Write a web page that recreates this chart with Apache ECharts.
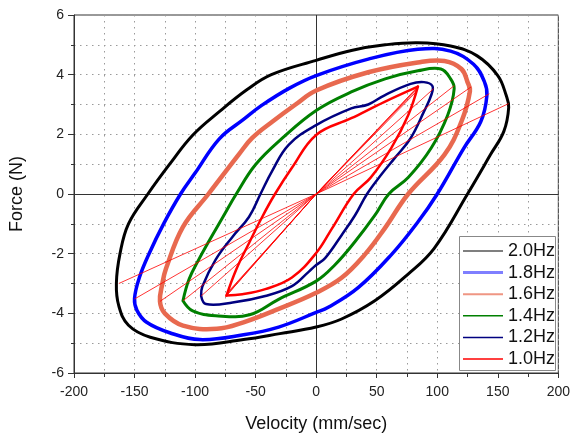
<!DOCTYPE html>
<html>
<head>
<meta charset="utf-8">
<script src="https://cdn.jsdelivr.net/npm/echarts@6/dist/echarts.min.js"></script>
<style>
html, body { margin: 0; padding: 0; background: #fff; }
#chart { width: 573px; height: 438px; }
</style>
</head>
<body>
<div id="chart"></div>
<script>
// force-velocity loops, [velocity mm/sec, force N]
var loop20 = [[-165,-3.0],[-162,-2.0],[-155,-1.0],[-139,0],[-121,1.0],[-102,1.97],[-80,2.76],[-57,3.5],[-37,4.0],[0,4.48],[30,4.82],[57,5.0],[84,5.07],[111,4.96],[133,4.63],[150,3.97],[157,3.3],[159,2.9],[155,2.1],[144,1.32],[125,0],[97.5,-1.82],[75.5,-2.7],[48.4,-3.58],[21,-4.19],[0,-4.46],[-30,-4.68],[-60,-4.88],[-100,-5.05],[-137,-4.8],[-155,-4.4],[-163,-3.75],[-165,-3.0]];
var loop18 = [[-150,-3.5],[-146,-2.8],[-138,-2.0],[-126,-1.0],[-112,0],[-100,0.7],[-80,1.85],[-60,2.5],[-45,2.97],[-22,3.55],[0,3.97],[43,4.52],[84,4.85],[111,4.79],[130,4.35],[139,3.76],[141,3.3],[136,2.43],[122,1.54],[100,0],[84,-0.94],[62,-2.04],[34.7,-3.14],[10,-3.8],[0,-3.97],[-31,-4.46],[-60,-4.72],[-96,-4.88],[-121,-4.65],[-140,-4.3],[-148,-3.9],[-150,-3.5]];
var loop16 = [[-129,-3.6],[-127,-3.0],[-124,-2.5],[-110,-1.1],[-89,0],[-64,1.32],[-53,1.87],[-36,2.43],[-17,3.0],[0,3.47],[43,4.08],[84,4.41],[106,4.46],[120,4.19],[125,3.75],[127,3.45],[120,2.43],[106,1.32],[76,0],[56.5,-1.16],[40,-2.04],[21,-2.81],[0,-3.31],[-31,-3.85],[-60,-4.3],[-82,-4.52],[-110,-4.41],[-125,-4.0],[-129,-3.6]];
var loop14 = [[-110,-3.58],[-105,-2.86],[-97,-2.2],[-88,-1.54],[-77,-0.77],[-66,0],[-50,0.99],[-28,1.87],[0,2.8],[29,3.42],[57,3.86],[84,4.13],[103,4.19],[111,3.86],[114,3.53],[108.6,2.64],[95,1.54],[76,0.55],[60,0],[48.4,-0.72],[32,-1.6],[15.6,-2.37],[0,-2.92],[-31,-3.53],[-55,-4.05],[-83,-4.08],[-102,-3.92],[-110,-3.58]];
var loop12 = [[-95,-3.42],[-94,-3.1],[-83,-2.2],[-69,-1.43],[-55.5,-0.77],[-46,0],[-36.4,0.77],[-22.7,1.65],[0,2.31],[29,2.87],[43,3.0],[56.5,3.31],[78,3.69],[89,3.75],[96,3.62],[95,3.31],[89,2.76],[78,1.87],[65,1.21],[54,0.66],[42,0],[32,-0.72],[21,-1.38],[7.4,-2.15],[0,-2.38],[-6,-2.6],[-20,-3.09],[-42,-3.42],[-69,-3.64],[-91,-3.69],[-95,-3.42]];
var loop10 = [[-74,-3.4],[-66,-2.53],[-55.5,-1.65],[-44.6,-0.77],[-34,0],[-20,0.88],[0,1.98],[29,2.54],[56.5,3.09],[84,3.6],[76,2.64],[62,1.54],[45,0.55],[31,0],[13,-1.16],[0,-1.98],[-20,-2.8],[-42,-3.19],[-61,-3.36],[-74,-3.4]];

// thin straight lines through the origin (loop start/end jumps)
var spokeLeft  = [[-74,-3.4],[-73,-3.32],[-75,-3.45],[-72,-3.25],[-95,-3.42],[-110,-3.58],[-129,-3.6],[-150,-3.52],[-163,-3.0]];
var spokeRight = [[84,3.6],[83,3.5],[85,3.62],[82,3.4],[97,3.53],[114,3.63],[128,3.59],[143,3.36],[159,3.03]];

var names  = ['2.0Hz', '1.8Hz', '1.6Hz', '1.4Hz', '1.2Hz', '1.0Hz'];
var colors = ['#000000', '#0000ff', '#e8694f', '#008000', '#000080', '#ff0000'];
var widths = [3, 3.5, 4.5, 3, 2.5, 2.5];
var loops  = [loop20, loop18, loop16, loop14, loop12, loop10];
// rounded ends (closed smooth curve) vs pointed lower-left end; 1.0Hz also pointed at the top tip
var rounded  = [true, true, true, false, false, false];
var sharpTip = [false, false, false, false, false, true];

var FONT = 'Liberation Sans, Arial, sans-serif';
var SMOOTH = 0.4;

function loopRenderer(i) {
  var pts = loops[i];
  return function (params, api) {
    if (params.dataIndex !== 0) return null;
    var px = pts.map(function (p) { return api.coord(p); });
    var style = { stroke: colors[i], lineWidth: widths[i], fill: null, lineJoin: 'round', lineCap: 'round' };
    if (rounded[i]) {
      return { type: 'polygon', shape: { points: px.slice(0, -1), smooth: SMOOTH }, style: style };
    }
    if (sharpTip[i]) {
      var k = 0;
      pts.forEach(function (p, j) { if (p[0] > pts[k][0]) k = j; });
      return {
        type: 'group',
        children: [
          { type: 'polyline', shape: { points: px.slice(0, k + 1), smooth: SMOOTH }, style: style },
          { type: 'polyline', shape: { points: px.slice(k), smooth: SMOOTH }, style: style }
        ]
      };
    }
    return { type: 'polyline', shape: { points: px, smooth: SMOOTH }, style: style };
  };
}

var series = loops.map(function (pts, i) {
  return {
    name: names[i],
    type: 'custom',
    data: pts,
    silent: true,
    itemStyle: { color: colors[i] },
    renderItem: loopRenderer(i),
    z: 3
  };
});
spokeLeft.forEach(function (p, i) {
  series.push({
    type: 'line',
    data: [p, [0, 0], spokeRight[i]],
    symbol: 'none',
    silent: true,
    lineStyle: { color: '#ff0000', width: 0.8 },
    z: 4
  });
});
// zero lines
series[series.length - 1].markLine = {
  symbol: 'none',
  silent: true,
  label: { show: false },
  lineStyle: { color: '#333', type: 'solid', width: 1 },
  z: 1,
  data: [{ xAxis: 0 }, { yAxis: 0 }]
};

// legend swatches: thickness (px) and opacity of each line sample
var swatchW  = [1, 3, 2, 1.5, 1.5, 1.5];
var swatchOp = [1, 0.5, 0.7, 1, 1, 1];

var gridDots = { color: '#9a9a9a', type: [1.5, 4.5], width: 1 };

var chart = echarts.init(document.getElementById('chart'));
chart.setOption({
  animation: false,
  backgroundColor: '#fff',
  grid: { left: 73, right: 11, top: 15, bottom: 60, show: true, borderColor: '#333', borderWidth: 1 },
  graphic: [{
    type: 'rect',
    shape: { x: 459.5, y: 236.5, width: 96, height: 134 },
    style: { fill: '#fff', stroke: '#888', lineWidth: 1 },
    z: 90,
    silent: true
  }],
  legend: {
    orient: 'vertical',
    left: 459,
    top: 236,
    itemWidth: 40,
    itemHeight: 14,
    itemGap: 3.6,
    padding: [6, 2, 6, 4],
    z: 100,
    textStyle: { fontSize: 18, fontFamily: FONT, color: '#111' },
    data: names.map(function (n, i) {
      var h = swatchW[i];
      return {
        name: n,
        icon: 'path://M0,0L40,0L40,' + h + 'L0,' + h + 'Z',
        itemStyle: { color: colors[i], opacity: swatchOp[i], borderWidth: 0 }
      };
    })
  },
  xAxis: {
    type: 'value',
    min: -200,
    max: 200,
    interval: 50,
    name: 'Velocity (mm/sec)',
    nameLocation: 'middle',
    nameGap: 42,
    nameTextStyle: { fontSize: 18, fontFamily: FONT, color: '#111' },
    axisLine: { onZero: false, lineStyle: { color: '#333' } },
    axisTick: { length: 5, lineStyle: { color: '#333' } },
    minorTick: { show: true, splitNumber: 2, length: 4, lineStyle: { color: '#333' } },
    axisLabel: { fontSize: 14, fontFamily: FONT, color: '#222', margin: 12 },
    splitLine: { show: true, lineStyle: gridDots },
    minorSplitLine: { show: true, lineStyle: gridDots }
  },
  yAxis: {
    type: 'value',
    min: -6,
    max: 6,
    interval: 2,
    name: 'Force (N)',
    nameLocation: 'middle',
    nameGap: 48,
    nameTextStyle: { fontSize: 18, fontFamily: FONT, color: '#111' },
    axisLine: { show: true, onZero: false, lineStyle: { color: '#333' } },
    axisTick: { show: true, length: 6, lineStyle: { color: '#333' } },
    minorTick: { show: true, splitNumber: 2, length: 3, lineStyle: { color: '#333' } },
    axisLabel: { fontSize: 14, fontFamily: FONT, color: '#222', margin: 10 },
    splitLine: { show: true, lineStyle: gridDots },
    minorSplitLine: { show: true, lineStyle: gridDots }
  },
  series: series
});
</script>
</body>
</html>
